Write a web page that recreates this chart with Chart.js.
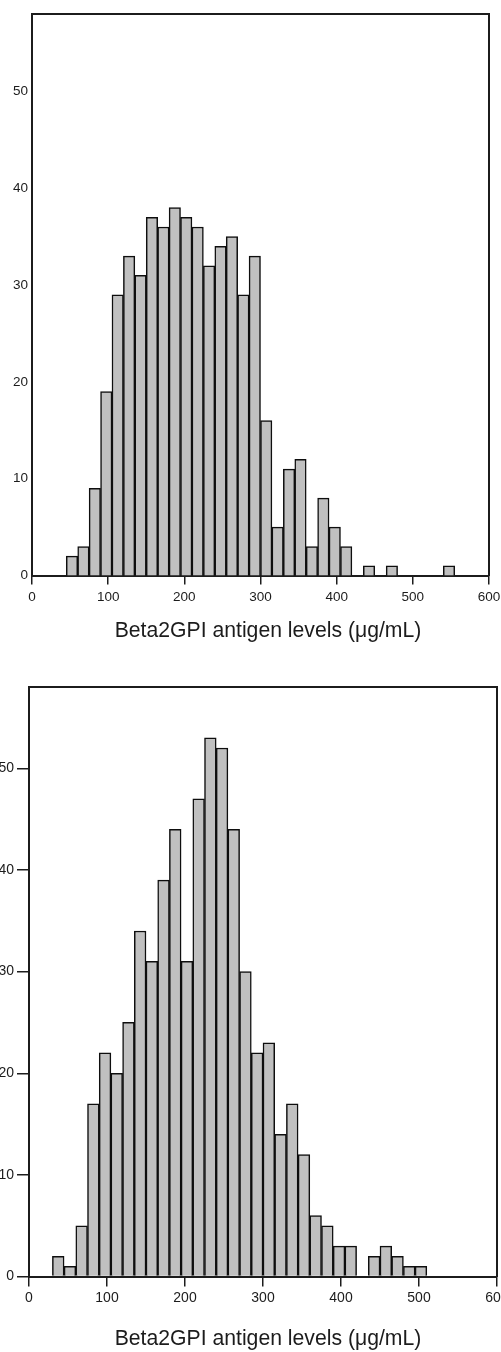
<!DOCTYPE html>
<html><head><meta charset="utf-8">
<script src="https://cdn.jsdelivr.net/npm/chart.js@4.4.1/dist/chart.umd.min.js"></script>
<style>
html,body{margin:0;padding:0;background:#fff;overflow:hidden;width:501px;height:1352px;position:relative;}
canvas{position:absolute;left:0;}
#c1{top:0;}
#c2{top:660px;}
</style></head><body>
<canvas id="c1" width="536" height="660" style="width:536px;height:660px"></canvas>
<canvas id="c2" width="536" height="692" style="width:536px;height:692px"></canvas>
<script>
// ---- data ----
const xAxisTitle = 'Beta2GPI antigen levels (\u03bcg/mL)';
const binWidth = 15;
const topBinStarts = [45,60,75,90,105,120,135,150,165,180,195,210,225,240,255,270,285,300,315,330,345,360,375,390,405,420,435,450,465,480,495,510,525,540];
const topCounts    = [2,3,9,19,29,33,31,37,36,38,37,36,32,34,35,29,33,16,5,11,12,3,8,5,3,0,1,0,1,0,0,0,0,1];
const bottomBinStarts = [30,45,60,75,90,105,120,135,150,165,180,195,210,225,240,255,270,285,300,315,330,345,360,375,390,405,420,435,450,465,480,495];
const bottomCounts    = [2,1,5,17,22,20,25,34,31,39,44,31,47,53,52,44,30,22,23,14,17,12,6,5,3,3,0,2,3,2,1,1];
const xTickValues = [0,100,200,300,400,500,600];
const yTickValues = [0,10,20,30,40,50];
const xMin = 0, xMax = 600, yMin = 0, yMax = 58;

const FONT = "'Liberation Sans', Arial, sans-serif";
const INK = '#1c1c1c';

function makeChart(id, starts, counts, g) {
  const data = starts.map((s, i) => ({x: s + binWidth / 2, y: counts[i]}));
  const fixW = w => (a) => { a.width = w; a.paddingTop = 0; a.paddingBottom = 0; a.paddingLeft = 0; a.paddingRight = 0; };
  const fixH = h => (a) => { a.height = h; a.paddingTop = 0; a.paddingBottom = 0; a.paddingLeft = 0; a.paddingRight = 0; };
  return new Chart(document.getElementById(id), {
    type: 'bar',
    data: { datasets: [{
      data: data,
      xAxisID: 'x', yAxisID: 'y',
      backgroundColor: '#c0c0c0',
      borderColor: '#0e0e0e',
      borderWidth: g.barBorder,
      borderSkipped: 'start',
      barPercentage: 1.0,
      categoryPercentage: 1.0
    }]},
    options: {
      responsive: false,
      devicePixelRatio: 1,
      animation: false,
      layout: { padding: { top: g.padTop, bottom: g.padBottom, left: 0, right: 0 } },
      plugins: {
        legend: { display: false },
        tooltip: { enabled: false },
        title: {
          display: true, text: xAxisTitle, position: 'bottom',
          color: INK, font: { family: FONT, size: g.titleSize, weight: 'normal' },
          padding: { top: g.titlePadTop, bottom: 0 }
        }
      },
      scales: {
        x: {
          type: 'linear', position: 'bottom', min: xMin, max: xMax, offset: false,
          afterBuildTicks: s => { s.ticks = xTickValues.map(v => ({value: v})); },
          afterFit: fixH(g.xHeight),
          ticks: { color: INK, font: { family: FONT, size: g.xFont }, padding: g.xTickPad, maxRotation: 0, autoSkip: false },
          grid: { display: true, offset: false, drawOnChartArea: false, drawTicks: true, tickLength: g.xTickLen, color: INK, lineWidth: 1.5 },
          border: { display: true, color: INK, width: 2 }
        },
        y: {
          type: 'linear', position: 'left', min: yMin, max: yMax,
          afterBuildTicks: s => { s.ticks = yTickValues.map(v => ({value: v})); },
          afterFit: fixW(g.yWidth),
          ticks: { color: INK, font: { family: FONT, size: g.yFont }, padding: g.yTickPad },
          grid: { display: g.yTickLen > 0, drawOnChartArea: false, drawTicks: g.yTickLen > 0, tickLength: g.yTickLen, color: INK, lineWidth: 1.5 },
          border: { display: true, color: INK, width: 2 }
        },
        xTop: {
          type: 'linear', position: 'top', display: true, offset: false,
          afterFit: fixH(0),
          ticks: { display: false }, grid: { display: false, offset: false },
          border: { display: true, color: INK, width: 2 }
        },
        yRight: {
          type: 'linear', position: 'right', display: true,
          afterFit: fixW(g.rightWidth),
          ticks: { display: false }, grid: { display: false },
          border: { display: true, color: INK, width: 2 }
        }
      }
    }
  });
}

makeChart('c1', topBinStarts, topCounts, {
  padTop: 14, padBottom: 16, yWidth: 32, rightWidth: 47, xHeight: 40,
  titleSize: 21.2, titlePadTop: 3,
  xFont: 13.5, xTickLen: 9, xTickPad: 5,
  yFont: 13.5, yTickLen: 0, yTickPad: 4, barBorder: 1.5
});
makeChart('c2', bottomBinStarts, bottomCounts, {
  padTop: 27, padBottom: 0, yWidth: 29, rightWidth: 39, xHeight: 40,
  titleSize: 21.2, titlePadTop: 10,
  xFont: 14, xTickLen: 10, xTickPad: 3,
  yFont: 14, yTickLen: 12, yTickPad: 3, barBorder: 1.5
});
</script>
</body></html>
